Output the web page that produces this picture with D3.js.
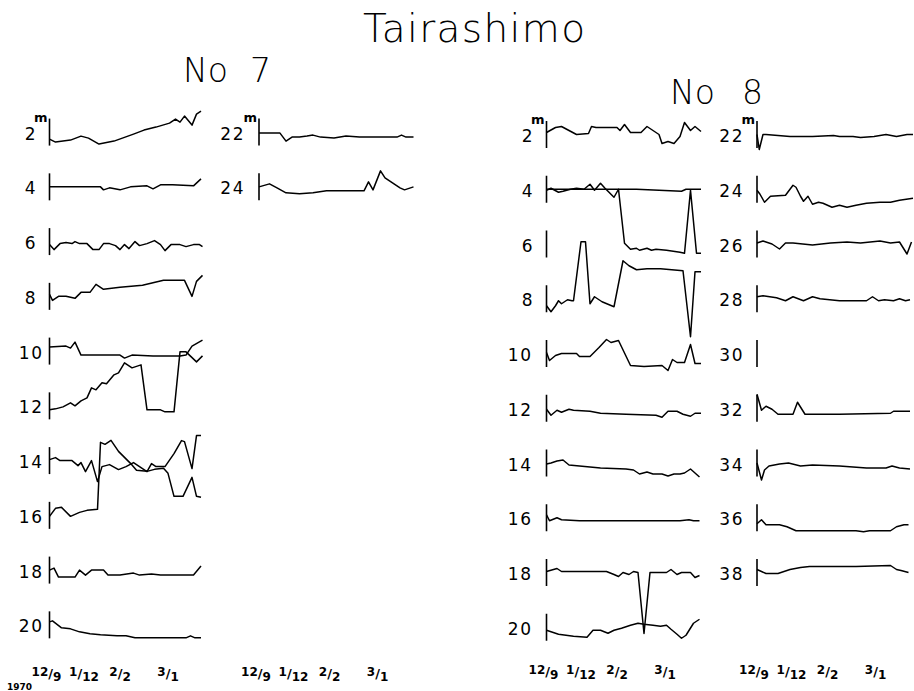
<!DOCTYPE html>
<html><head><meta charset="utf-8">
<script src="https://cdn.jsdelivr.net/npm/d3@7"></script>
<style>body{margin:0;background:#fff}svg{display:block}</style>
</head><body>
<svg id="chart" width="914" height="691"></svg>
<script>
// ---------------- DATA ----------------
const chartTitle = "Tairashimo";
const stationNames = ["No 7", "No 8"];
const depthsNo7Left = [2, 4, 6, 8, 10, 12, 14, 16, 18, 20];
const depthsNo7Right = [22, 24];
const depthsNo8Left = [2, 4, 6, 8, 10, 12, 14, 16, 18, 20];
const depthsNo8Right = [22, 24, 26, 28, 30, 32, 34, 36, 38];
const depthUnit = "m";
// date ticks: days after 12/9 (1969-70)
const dateTickDays = [-2, 23, 47, 79];
const dateTickNum = ["12", "1", "2", "3"];
const dateTickDen = ["9", "12", "2", "1"];
const yearLabel = "1970";

// traces: [day, displacement] pairs (displacement in relative units, + = down)
const no7_2  = [[0,7],[4,10],[14,8],[21,4],[26,6],[33,12],[43,9],[56,2],[63,-2],[71,-5],[80,-9],[84,-13],[87,-10],[90,-16],[95,-7],[98,-18],[101,-21]];
const no7_4  = [[0,0],[34,0],[36,3],[40,1],[47,3],[54,0],[65,-1],[69,2],[74,-2],[82,-2],[96,-1],[101,-8]];
const no7_6  = [[0,3],[3,8],[7,2],[11,1],[15,2],[17,0],[20,2],[25,2],[29,8],[33,8],[36,2],[40,2],[44,4],[47,8],[50,3],[53,7],[57,0],[60,4],[65,2],[70,-1],[74,3],[77,9],[81,3],[87,3],[91,5],[96,3],[100,3],[102,5]];
const no7_8  = [[0,-2],[2,4],[6,0],[11,0],[17,2],[21,-4],[27,-4],[31,-12],[36,-7],[47,-9],[62,-11],[76,-16],[90,-16],[95,0],[98,-15],[102,-21]];
const no7_10 = [[0,-4],[11,-5],[14,-3],[17,-9],[21,4],[47,4],[50,7],[55,4],[69,5],[74,5],[87,5],[91,4],[95,-5],[102,-11]];
const no7_12 = [[0,4],[4,3],[9,1],[14,-3],[17,0],[21,-5],[25,-8],[28,-18],[31,-16],[35,-23],[38,-22],[43,-31],[46,-33],[50,-43],[55,-38],[61,-41],[65,4],[74,4],[77,6],[83,6],[87,-54],[91,-54],[98,-44],[102,-50]];
const no7_14 = [[0,-1],[4,-3],[7,0],[15,0],[19,5],[21,2],[24,11],[28,0],[32,21],[35,6],[40,4],[46,9],[51,6],[56,2],[60,6],[65,11],[68,3],[71,6],[77,6],[83,-7],[88,-20],[90,-19],[95,8],[98,-25],[101,-25]];
const no7_16 = [[0,1],[4,-7],[8,-8],[14,1],[20,-3],[25,-5],[32,-6],[34,-73],[37,-71],[41,-75],[46,-64],[50,-58],[54,-52],[58,-45],[65,-44],[70,-46],[76,-47],[79,-42],[83,-19],[89,-19],[95,-38],[98,-19],[101,-18]];
const no7_18 = [[0,0],[3,-2],[6,7],[17,7],[20,0],[24,5],[28,0],[36,0],[39,5],[47,5],[56,3],[60,5],[68,4],[74,5],[96,5],[101,-4]];
const no7_20 = [[0,-3],[2,-4],[8,3],[14,4],[20,7],[27,9],[34,10],[45,11],[51,11],[57,13],[91,13],[94,11],[97,13],[101,13]];
const no7_22 = [[0,1],[14,1],[18,9],[22,5],[27,5],[32,4],[36,3],[41,5],[50,6],[58,4],[67,5],[92,5],[95,3],[98,5],[103,5]];
const no7_24 = [[0,0],[7,-3],[12,1],[18,6],[27,7],[36,6],[45,4],[54,4],[70,4],[73,-5],[76,3],[81,-16],[84,-9],[88,-5],[94,1],[97,3],[103,0]];

const no8_2  = [[0,-2],[6,-7],[10,-8],[15,-4],[20,0],[28,-1],[30,-8],[33,-7],[47,-7],[49,-4],[52,-10],[56,-2],[63,-2],[67,-8],[71,-4],[75,0],[77,9],[81,7],[85,9],[89,2],[92,-12],[96,-4],[99,-8],[103,-3]];
const no8_4  = [[0,0],[60,0],[75,1],[90,2],[93,0],[103,0]];
const no8_4b = [[0,1],[3,-1],[8,3],[11,2],[16,0],[20,-1],[25,0],[29,-5],[32,1],[36,-6],[39,-1],[41,2],[45,8],[48,0],[52,54],[56,60],[60,59],[62,61],[67,59],[70,61],[73,60],[80,61],[89,63],[92,64],[96,1],[100,64],[103,64]];
const no8_8  = [[0,7],[3,13],[6,7],[8,2],[10,5],[14,1],[17,2],[18,2],[23,-57],[26,-57],[29,5],[32,-2],[37,3],[45,8],[51,-38],[55,-33],[60,-29],[67,-30],[76,-30],[91,-28],[96,38],[99,-27],[103,-27]];
const no8_10 = [[0,-1],[2,7],[6,2],[10,0],[20,0],[22,3],[29,3],[35,-6],[40,-14],[43,-11],[48,-13],[56,12],[65,13],[77,12],[81,17],[84,6],[87,9],[92,9],[96,-9],[99,10],[103,10]];
const no8_12 = [[0,1],[3,7],[7,2],[10,4],[15,1],[18,2],[29,3],[36,5],[53,6],[73,7],[77,9],[81,3],[87,3],[91,6],[96,8],[99,5],[103,5]];
const no8_14 = [[0,1],[3,0],[7,-2],[11,-3],[15,2],[22,3],[36,5],[53,6],[58,7],[62,11],[67,9],[71,11],[77,11],[81,13],[85,11],[89,11],[92,10],[96,6],[99,10],[102,14]];
const no8_16 = [[0,-3],[2,3],[7,0],[10,2],[22,3],[76,3],[89,3],[95,2],[98,3],[102,3]];
const no8_18 = [[0,-1],[7,-4],[10,-1],[40,-1],[45,2],[48,4],[51,0],[55,2],[58,-1],[61,0],[65,61],[69,0],[80,0],[83,-3],[87,2],[90,0],[96,0],[99,5],[102,3]];
const no8_20 = [[0,3],[8,7],[18,9],[27,10],[31,3],[36,3],[41,6],[45,3],[50,1],[56,-2],[61,-4],[65,-3],[71,-2],[76,-1],[80,-2],[83,2],[87,7],[90,11],[93,8],[98,-4],[102,-8]];
const no8_22 = [[0,0],[1.5,15],[4,0],[6,0],[22,2],[37,2],[51,1],[55,2],[64,2],[69,3],[78,2],[86,0],[93,2],[100,0],[104,0]];
const no8_24 = [[0,1],[2,5],[5,13],[9,7],[19,6],[24,-4],[26,-2],[29,7],[31,12],[34,7],[37,15],[41,13],[44,14],[50,18],[55,16],[60,18],[66,16],[73,14],[82,13],[89,13],[95,11],[104,9]];
const no8_26 = [[0,-1],[4,-3],[10,0],[15,5],[19,-1],[24,-1],[37,1],[49,-1],[60,-2],[69,-1],[82,-3],[89,-1],[95,-2],[100,10],[103,-2]];
const no8_28 = [[0,-2],[4,-3],[13,-1],[19,2],[24,-2],[31,2],[37,-2],[42,0],[55,2],[64,2],[73,2],[77,-2],[81,2],[85,1],[91,2],[95,0],[99,2],[102,1]];
const no8_32 = [[0,-14],[3,2],[6,-2],[10,1],[14,6],[24,6],[27,-6],[32,6],[46,6],[55,6],[89,5],[91,3],[102,3]];
const no8_34 = [[0,0],[3,17],[5,7],[8,3],[15,1],[21,0],[29,3],[37,2],[55,3],[73,5],[86,5],[90,3],[95,5],[102,6]];
const no8_36 = [[0,6],[3,2],[6,7],[15,7],[20,9],[26,13],[42,13],[66,13],[71,14],[75,13],[89,13],[93,9],[98,7],[101,7]];
const no8_38 = [[0,-3],[6,1],[14,1],[22,-3],[29,-5],[35,-6],[51,-6],[66,-6],[89,-7],[93,-3],[96,-2],[101,0]];

// ---------------- LAYOUT ----------------
const svg = d3.select("#chart");
const FONT = "'DejaVu Sans', 'Liberation Sans', sans-serif";
const ROW = 54.75;
const devScale = d3.scaleLinear().domain([-100, 100]).range([-100, 100]);

const panels = [
  {x0: 49.5, top: 132.1, depths: depthsNo7Left, gap1: 14, gap2: 6,
   traces: [[2,no7_2],[4,no7_4],[6,no7_6],[8,no7_8],[10,no7_10],[12,no7_12],[14,no7_14],[16,no7_16],[18,no7_18],[20,no7_20]]},
  {x0: 259, top: 132.1, depths: depthsNo7Right, gap1: 14, gap2: 14,
   traces: [[22,no7_22],[24,no7_24]]},
  {x0: 546.5, top: 134.5, depths: depthsNo8Left, gap1: 14, gap2: 14,
   traces: [[2,no8_2],[4,no8_4],[4,no8_4b],[8,no8_8],[10,no8_10],[12,no8_12],[14,no8_14],[16,no8_16],[18,no8_18],[20,no8_20]]},
  {x0: 757, top: 134.5, depths: depthsNo8Right, gap1: 13, gap2: 13,
   traces: [[22,no8_22],[24,no8_24],[26,no8_26],[28,no8_28],[32,no8_32],[34,no8_34],[36,no8_36],[38,no8_38]]}
];

// title
svg.append("text").attr("x", 363).attr("y", 42)
  .attr("font-family", FONT).attr("font-size", 39).attr("font-weight", 200)
  .attr("textLength", 222).attr("lengthAdjust", "spacing")
  .text(chartTitle);

// station headers
const headers = [{name: stationNames[0], x1: 183, x2: 250, y: 82},
                 {name: stationNames[1], x1: 670, x2: 742, y: 104}];
headers.forEach(h => {
  const parts = h.name.split(" ");
  const t = svg.append("text").attr("y", h.y).attr("font-family", FONT)
    .attr("font-size", 33).attr("font-weight", 200);
  t.append("tspan").attr("x", h.x1).text(parts[0]);
  t.append("tspan").attr("x", h.x2).text(parts[1]);
});

const line = d3.line().curve(d3.curveLinear);

panels.forEach((p, pi) => {
  const d0 = p.depths[0];
  const y = d3.scaleLinear().domain([d0, d0 + 18]).range([p.top, p.top + 9 * ROW]);
  const x = d3.scaleLinear().domain([0, 104]).range([p.x0, p.x0 + 156]);
  const g = svg.append("g");

  // vertical ticks + depth labels
  p.depths.forEach((d, i) => {
    g.append("line").attr("x1", x(0)).attr("x2", x(0))
      .attr("y1", y(d) - 13.5).attr("y2", y(d) + 13.5)
      .attr("stroke", "#000").attr("stroke-width", 1.6);
    const lab = String(d);
    const gap = lab.length === 1 ? p.gap1 : p.gap2;
    g.append("text").attr("x", x(0) - gap).attr("y", y(d) + 7.5)
      .attr("text-anchor", "end").attr("font-family", FONT)
      .attr("font-size", 17).attr("letter-spacing", lab.length > 1 ? 1.5 : 0)
      .text(lab);
    if (i === 0) {
      g.append("text").attr("x", x(0) - 2).attr("y", y(d) - 10.5)
        .attr("text-anchor", "end").attr("font-family", FONT)
        .attr("font-size", 13).attr("font-weight", "bold").text(depthUnit);
    }
  });

  // traces
  p.traces.forEach(([d, data]) => {
    g.append("path")
      .attr("d", line(data.map(([t, v]) => [x(t), y(d) + devScale(v)])))
      .attr("fill", "none").attr("stroke", "#000").attr("stroke-width", 1.5)
      .attr("stroke-linejoin", "round");
  });

  // date axis labels
  const dy = pi < 2 ? 680 : 678;
  dateTickDays.forEach((t, k) => {
    const txt = g.append("text").attr("x", x(t)).attr("y", dy)
      .attr("text-anchor", "middle").attr("font-family", FONT).attr("font-weight", "bold");
    txt.append("tspan").attr("font-size", 12).attr("dy", -4).text(dateTickNum[k]);
    txt.append("tspan").attr("font-size", 13).attr("dy", 2).text("/");
    txt.append("tspan").attr("font-size", 12).attr("dy", 3).text(dateTickDen[k]);
  });
});

svg.append("text").attr("x", 7).attr("y", 690)
  .attr("font-family", FONT).attr("font-size", 9).attr("font-weight", "bold")
  .text(yearLabel);
</script>
</body></html>
